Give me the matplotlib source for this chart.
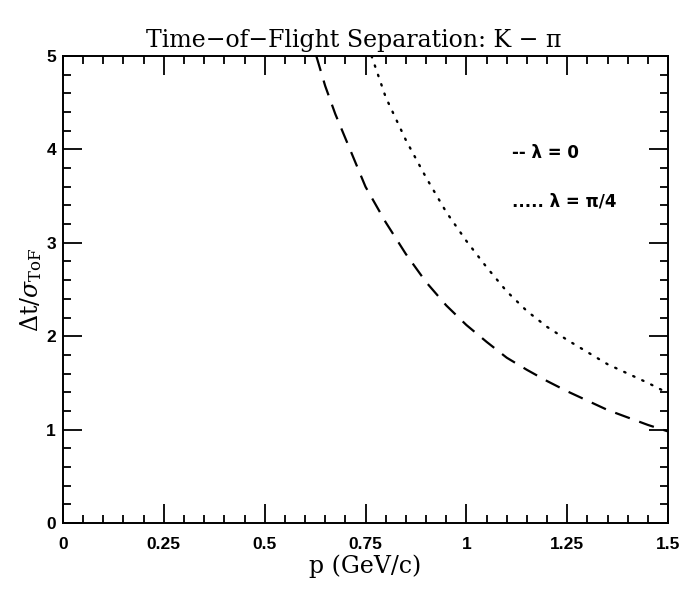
import matplotlib
matplotlib.use("Agg")
import matplotlib.pyplot as plt
from matplotlib.ticker import MultipleLocator

plt.rcParams['mathtext.fontset'] = 'dejavuserif'

# lambda = 0 (dashed)
p_flat = [0.628, 0.65, 0.675, 0.70, 0.75, 0.80, 0.85, 0.90, 0.95, 1.00,
          1.05, 1.10, 1.15, 1.20, 1.25, 1.30, 1.35, 1.40, 1.45, 1.50]
sep_flat = [5.00, 4.68, 4.38, 4.12, 3.60, 3.22, 2.88, 2.58, 2.33, 2.12,
            1.94, 1.77, 1.64, 1.52, 1.41, 1.31, 1.21, 1.13, 1.05, 0.98]

# lambda = pi/4 (dotted)
p_tilt = [0.765, 0.80, 0.85, 0.90, 0.95, 1.00, 1.05, 1.10, 1.15, 1.20,
          1.25, 1.30, 1.35, 1.40, 1.45, 1.50]
sep_tilt = [5.00, 4.56, 4.10, 3.70, 3.33, 3.02, 2.74, 2.48, 2.27, 2.10,
            1.96, 1.83, 1.70, 1.60, 1.50, 1.39]

xticks = [0, 0.25, 0.5, 0.75, 1, 1.25, 1.5]
xticklabels = ['0', '0.25', '0.5', '0.75', '1', '1.25', '1.5']
yticks = [0, 1, 2, 3, 4, 5]

fig = plt.figure(figsize=(6.81, 5.90), dpi=100)
ax = fig.add_axes([0.0925, 0.1136, 0.8885, 0.7914])

ax.plot(p_flat, sep_flat, color='black', lw=1.6, dashes=(7, 4.5))
ax.plot(p_tilt, sep_tilt, color='black', lw=1.7, linestyle=(0, (0.6, 3.6)),
        dash_capstyle='round')

ax.set_xlim(0, 1.5)
ax.set_ylim(0, 5)
ax.set_xticks(xticks)
ax.set_xticklabels(xticklabels)
ax.set_yticks(yticks)
ax.xaxis.set_minor_locator(MultipleLocator(0.05))
ax.yaxis.set_minor_locator(MultipleLocator(0.2))
ax.tick_params(which='both', direction='in', top=True, right=True,
               width=1.3, color='black')
ax.tick_params(which='major', length=14)
ax.tick_params(which='minor', length=6)
ax.tick_params(axis='x', which='major', pad=10)
ax.tick_params(axis='y', which='major', pad=5)
for lab in ax.get_xticklabels() + ax.get_yticklabels():
    lab.set_fontfamily('Liberation Sans')
    lab.set_fontweight('bold')
    lab.set_fontsize(12.5)
for sp in ax.spines.values():
    sp.set_linewidth(1.4)

ax.text(1.114, 3.96, '-- λ = 0', fontsize=12, fontweight='bold',
        family='DejaVu Sans', va='center', ha='left')
ax.text(1.114, 3.44, '..... λ = π/4', fontsize=12, fontweight='bold',
        family='DejaVu Sans', va='center', ha='left')

ax.set_xlabel('p (GeV/c)', fontsize=17, family='DejaVu Serif', labelpad=2)
ax.set_ylabel(r'$\Delta\mathrm{t}/\sigma_{\mathrm{ToF}}$', fontsize=17,
              labelpad=2)
fig.text(0.52, 0.932, 'Time\u2212of\u2212Flight Separation: K \u2212 \u03c0',
         fontsize=17, family='DejaVu Serif', ha='center', va='center')

fig.savefig('out.png', dpi=100, facecolor='white')
